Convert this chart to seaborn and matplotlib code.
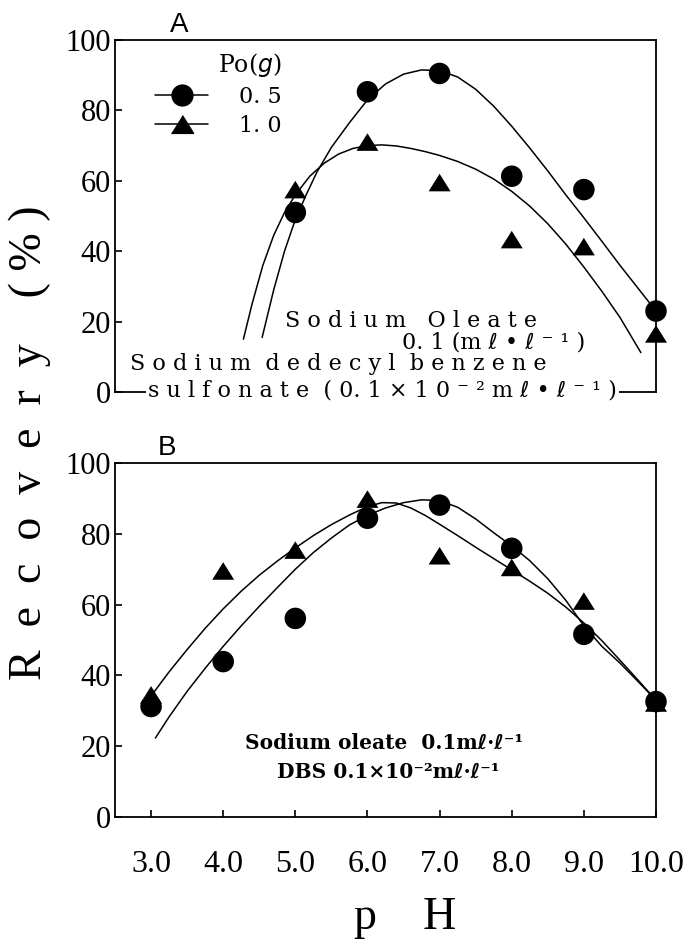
import numpy as np
import pandas as pd
import matplotlib
matplotlib.use("Agg")
import matplotlib.pyplot as plt
from matplotlib.lines import Line2D
import seaborn as sns

# ---- data ----
ph_a = [5.0, 6.0, 7.0, 8.0, 9.0, 10.0]
rec_a_05 = [51.0, 85.3, 90.5, 61.3, 57.5, 23.0]
rec_a_10 = [57.5, 71.0, 59.5, 43.3, 41.3, 16.5]

# hand-drawn fitted curves, panel A
curve_a_05_x = [4.54, 4.7, 4.85, 5.0, 5.15, 5.3, 5.5, 5.75, 6.0, 6.25, 6.5, 6.75, 7.0, 7.25,
                7.5, 7.75, 8.0, 8.25, 8.5, 8.75, 9.0, 9.25, 9.5, 9.75, 10.0]
curve_a_05_y = [15.5, 29.0, 40.0, 49.0, 56.0, 62.5, 69.5, 76.5, 83.0, 87.5, 90.3, 91.5, 91.3, 89.5,
                86.0, 81.2, 75.5, 69.3, 62.8, 56.0, 49.5, 42.8, 36.0, 29.5, 23.0]
curve_a_10_x = [4.28, 4.4, 4.55, 4.7, 4.85, 5.0, 5.2, 5.4, 5.6, 5.8, 6.0, 6.2, 6.4, 6.6, 6.8,
                7.0, 7.25, 7.5, 7.75, 8.0, 8.25, 8.5, 8.75, 9.0, 9.25, 9.5, 9.79]
curve_a_10_y = [15.0, 25.0, 36.0, 44.5, 51.0, 56.0, 61.3, 65.0, 67.6, 69.2, 70.0, 70.2, 69.9, 69.2, 68.3,
                67.2, 65.5, 63.3, 60.5, 57.0, 52.8, 47.8, 42.0, 35.5, 28.6, 21.2, 11.2]

ph_b = [3.0, 4.0, 5.0, 6.0, 7.0, 8.0, 9.0, 10.0]
rec_b_05 = [31.2, 43.9, 56.1, 84.4, 88.1, 75.9, 51.6, 32.6]
rec_b_10 = [34.5, 69.5, 75.4, 89.8, 73.8, 70.5, 61.0, 32.2]

curve_b_10_x = [3.03, 3.25, 3.5, 3.75, 4.0, 4.25, 4.5, 4.75, 5.0, 5.25, 5.5, 5.75, 6.0, 6.2, 6.4,
                6.6, 6.8, 7.0, 7.25, 7.5, 7.75, 8.0, 8.25, 8.5, 8.75, 9.0, 9.25, 9.5, 9.75, 10.0]
curve_b_10_y = [35.0, 41.0, 47.3, 53.3, 58.8, 63.8, 68.3, 72.3, 76.0, 79.5, 82.6, 85.3, 87.7, 88.8, 88.7,
                87.3, 85.2, 82.7, 79.5, 76.2, 73.0, 69.8, 66.6, 63.2, 59.3, 54.8, 49.8, 44.3, 38.7, 33.0]
curve_b_05_x = [3.06, 3.25, 3.5, 3.75, 4.0, 4.25, 4.5, 4.75, 5.0, 5.25, 5.5, 5.75, 6.0, 6.25, 6.5,
                6.75, 7.0, 7.25, 7.5, 7.75, 8.0, 8.25, 8.5, 8.75, 9.0, 9.25, 9.5, 9.75, 10.0]
curve_b_05_y = [22.3, 28.3, 35.5, 42.0, 48.2, 54.0, 59.5, 64.8, 70.0, 74.7, 78.8, 82.5, 85.2, 87.3, 88.8,
                89.6, 89.4, 87.5, 84.2, 80.3, 76.6, 72.4, 67.3, 61.2, 54.0, 48.2, 43.5, 38.3, 33.0]

xticks = [3.0, 4.0, 5.0, 6.0, 7.0, 8.0, 9.0, 10.0]
xtick_labels = ["3.0", "4.0", "5.0", "6.0", "7.0", "8.0", "9.0", "10.0"]
yticks = [0, 20, 40, 60, 80, 100]

sns.set_style("ticks")
plt.rcParams["font.family"] = ["Liberation Serif", "DejaVu Serif", "DejaVu Sans"]
for key in ["text.color", "axes.labelcolor", "xtick.color", "ytick.color", "axes.edgecolor"]:
    plt.rcParams[key] = "black"

W, H = 697, 947
fig = plt.figure(figsize=(W / 100, H / 100), dpi=100)

def px_rect(left, top, right, bottom):
    return [left / W, 1 - bottom / H, (right - left) / W, (bottom - top) / H]

tri = [(-1, -0.8), (1, -0.8), (0, 0.8)]
mono = ["DejaVu Serif", "DejaVu Sans"]

def style_axes(ax, show_x):
    ax.set_xlim(2.5, 10.0)
    ax.set_ylim(0, 100)
    ax.set_yticks(yticks)
    ax.set_yticklabels([str(v) for v in yticks], fontsize=22)
    ax.tick_params(axis="y", direction="in", length=5, width=1.2, pad=3)
    if show_x:
        ax.set_xticks(xticks)
        ax.set_xticklabels(xtick_labels, fontsize=23)
        ax.tick_params(axis="x", direction="in", length=5, width=1.2, pad=24)
    else:
        ax.set_xticks([])
    for s in ax.spines.values():
        s.set_visible(True)
        s.set_linewidth(1.3)
        s.set_color("black")
    ax.set_xlabel("")
    ax.set_ylabel("")

def draw_points(ax, x, y05, y10):
    sns.scatterplot(x=x, y=y10, marker=tri, s=250, color="black", edgecolor="none",
                    ax=ax, clip_on=False, zorder=4)
    sns.scatterplot(x=x, y=y05, marker="o", s=240, color="black", edgecolor="none",
                    ax=ax, clip_on=False, zorder=5)

def draw_curve(ax, x, y):
    sns.lineplot(x=x, y=y, color="black", linewidth=1.1, estimator=None, sort=False, ax=ax)

# ---------- panel A ----------
ax_a = fig.add_axes(px_rect(115, 40, 656, 392))
draw_curve(ax_a, curve_a_05_x, curve_a_05_y)
draw_curve(ax_a, curve_a_10_x, curve_a_10_y)
draw_points(ax_a, ph_a, rec_a_05, rec_a_10)
style_axes(ax_a, False)

handles = [Line2D([], [], color="black", lw=1.1, marker="o", markersize=15),
           Line2D([], [], color="black", lw=1.1, marker=tri, markersize=16)]
leg = ax_a.legend(handles, ["0. 5", "1. 0"], title="Po($g$)", loc="upper left",
                  bbox_to_anchor=(0.045, 1.012), frameon=False, handlelength=2.4,
                  handletextpad=1.4, labelspacing=0.3, borderpad=0.2,
                  prop={"family": mono, "size": 16}, title_fontproperties={"family": mono, "size": 17})
leg._legend_box.align = "right"

ax_a.text(0.118, 1.005, "A", transform=ax_a.transAxes, fontsize=20, family="Liberation Sans",
          ha="center", va="bottom")

fs_a = 16
fig.text(285 / W, 1 - 321 / H, "S o d i u m   O l e a t e", family=mono, fontsize=fs_a,
         ha="left", va="center")
fig.text(402 / W, 1 - 343 / H, "0. 1 (m ℓ • ℓ ⁻ ¹ )", family=mono, fontsize=fs_a,
         ha="left", va="center")
fig.text(130 / W, 1 - 364 / H, "S o d i u m  d e d e c y l  b e n z e n e", family=mono,
         fontsize=fs_a, ha="left", va="center")
fig.text(148 / W, 1 - 391 / H, "s u l f o n a t e  ( 0. 1 × 1 0 ⁻ ² m ℓ • ℓ ⁻ ¹ )", family=mono,
         fontsize=fs_a, ha="left", va="center",
         bbox=dict(boxstyle="square,pad=0.1", fc="white", ec="none"), zorder=10)

# ---------- panel B ----------
ax_b = fig.add_axes(px_rect(115, 463, 656, 817))
draw_curve(ax_b, curve_b_10_x, curve_b_10_y)
draw_curve(ax_b, curve_b_05_x, curve_b_05_y)
draw_points(ax_b, ph_b, rec_b_05, rec_b_10)
style_axes(ax_b, True)
ax_b.text(0.097, 1.005, "B", transform=ax_b.transAxes, fontsize=20, family="Liberation Sans",
          ha="center", va="bottom")

fig.text(245 / W, 1 - 743 / H, "Sodium oleate  0.1mℓ·ℓ⁻¹", family=mono, fontsize=14.5,
         fontweight="bold", ha="left", va="center")
fig.text(277 / W, 1 - 772 / H, "DBS 0.1×10⁻²mℓ·ℓ⁻¹", family=mono, fontsize=14.5,
         fontweight="bold", ha="left", va="center")

# axis titles
fig.text(30 / W, 1 - 443 / H, "R  e  c  o  v  e  r  y    ( % )", rotation=90, fontsize=33,
         ha="center", va="center")
fig.text(405 / W, 1 - 918 / H, "p    H", fontsize=33, ha="center", va="center")

fig.savefig("out.png", dpi=100)
